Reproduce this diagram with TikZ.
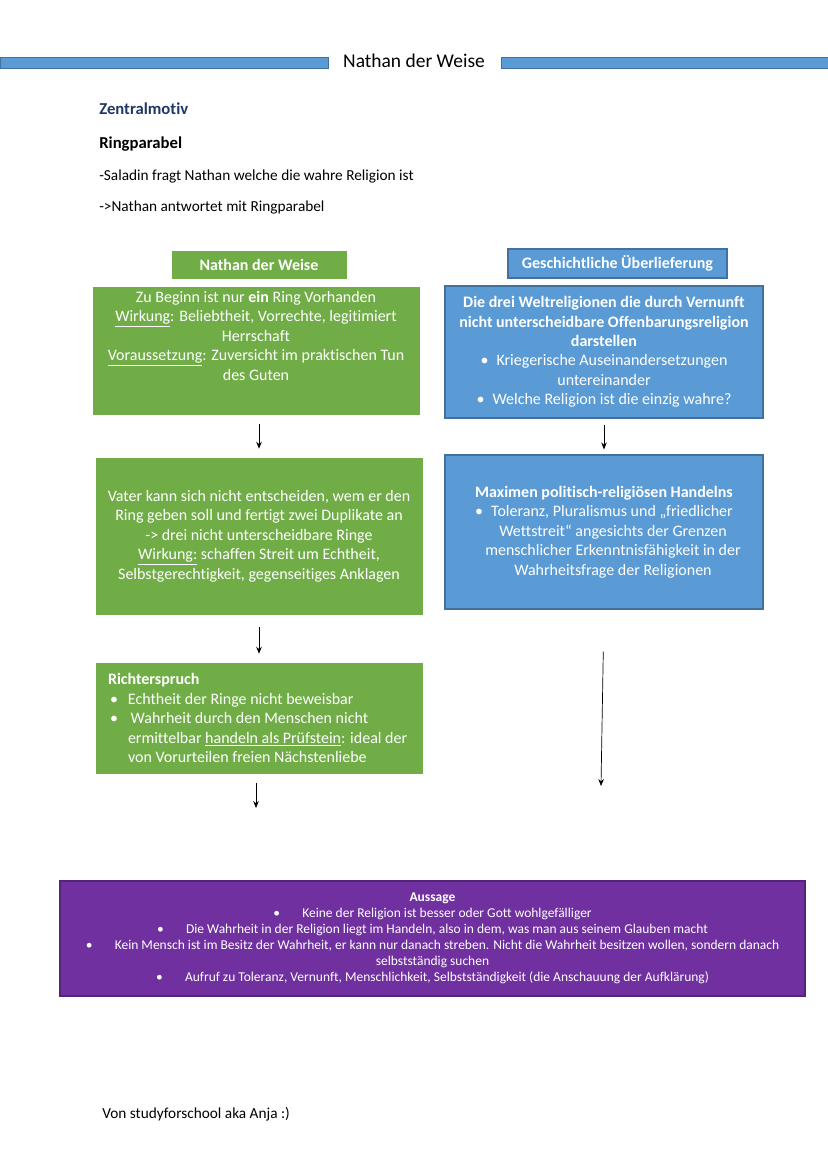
\documentclass[tikz,border=0pt]{standalone}
\usepackage{fontspec}
\setmainfont{Carlito}[Ligatures={TeX,NoCommon}]
\usetikzlibrary{arrows.meta, positioning}
\newlength\px
\setlength\px{0.71893pt}
\definecolor{boxgreen}{HTML}{70AD47}
\definecolor{boxblue}{HTML}{5B9BD5}
\definecolor{lineblue}{HTML}{41719C}
\definecolor{boxpurple}{HTML}{7030A0}
\definecolor{navy}{HTML}{1F3864}
\newcommand{\bul}[1]{\makebox[#1][l]{•}}
\tikzset{
    >={Stealth[length=5pt, width=4pt]}, % small filled arrow heads
    flow/.style={->, line width=0.5pt},
    boxfont/.style={font=\fontsize{11.5}{14}\selectfont},
    gbox/.style={fill=boxgreen, draw=boxgreen, text=white, inner sep=0pt, align=center, boxfont},
    bbox/.style={fill=boxblue, draw=lineblue, line width=0.8pt, text=white, inner sep=0pt, align=center, boxfont},
    pbox/.style={fill=boxpurple, draw=boxpurple!75!black, line width=0.8pt, text=white, inner sep=0pt, align=center, font=\fontsize{9.7}{11.5}\selectfont},
    plain/.style={anchor=west, inner sep=0pt, text height=1.5ex, text depth=0.3ex, font=\fontsize{11}{13}\selectfont},
    bar/.style={fill=boxblue, draw=lineblue, line width=0.4pt},
}
\begin{document}
\begin{tikzpicture}[x=0.71893pt, y=-0.71893pt]
    \useasboundingbox (0,0) rectangle (828,1171);

    % title line
    \node[inner sep=0pt, font=\fontsize{14}{16}\selectfont] (title) at (414,61) {Nathan der Weise};
    \path[bar] (0,57) rectangle (328,68);
    \path[bar] (501,57) rectangle (828,68);

    \node[plain, font=\fontsize{12}{14}\selectfont\bfseries, text=navy] (motiv) at (99,110.5) {Zentralmotiv};
    \node[plain, font=\fontsize{12}{14}\selectfont\bfseries] (parabel) at (99,144.5) {Ringparabel};
    \node[plain] (frage) at (99,177) {-Saladin fragt Nathan welche die wahre Religion ist};
    \node[plain] (antwort) at (99,208) {->Nathan antwortet mit Ringparabel};

    % column heads
    \node[gbox, font=\fontsize{11.5}{14}\selectfont\bfseries, minimum width=174\px, minimum height=27\px] (headL) at (259,264.5) {Nathan der Weise};
    \node[bbox, font=\fontsize{11.5}{14}\selectfont\bfseries, minimum width=219\px, minimum height=29\px] (headR) at (617.5,263.5) {Geschichtliche Überlieferung};

    % left column
    \node[gbox, minimum width=326\px, minimum height=127\px] (g1) at (256,350.5) {};
    \node[gbox, draw=none, fill=none] (g1txt) at (256,335.5) {Zu Beginn ist nur \textbf{ein} Ring Vorhanden\\
        \underline{Wirkung}: Beliebtheit, Vorrechte, legitimiert\\
        Herrschaft\\
        \underline{Voraussetzung}: Zuversicht im praktischen Tun\\
        des Guten};
    \node[gbox, minimum width=326\px, minimum height=156\px] (g2) at (259,536) {Vater kann sich nicht entscheiden, wem er den\\
        Ring geben soll und fertigt zwei Duplikate an\\
        -> drei nicht unterscheidbare Ringe\\
        \underline{Wirkung:} schaffen Streit um Echtheit,\\
        Selbstgerechtigkeit, gegenseitiges Anklagen};
    \node[gbox, align=flush left, text width=310\px, inner xsep=8\px, minimum height=110\px] (g3) at (259,718) {\hspace*{4\px}\textbf{Richterspruch}\\
        \hspace*{6\px}\bul{18\px}Echtheit der Ringe nicht beweisbar\\
        \hspace*{6\px}\bul{18\px}\,Wahrheit durch den Menschen nicht\\
        \hspace*{24\px}ermittelbar \underline{handeln als Prüfstein}: ideal der\\
        \hspace*{24\px}von Vorurteilen freien Nächstenliebe};

    % right column
    \node[bbox, minimum width=318\px, minimum height=132\px] (b1) at (604,352) {\textbf{Die drei Weltreligionen die durch Vernunft}\\
        \textbf{nicht unterscheidbare Offenbarungsreligion}\\
        \textbf{darstellen}\\
        \bul{16\px}Kriegerische Auseinandersetzungen\\
        untereinander\\
        \bul{16\px}Welche Religion ist die einzig wahre?};
    \node[bbox, minimum width=318\px, minimum height=154\px] (b2) at (604,532) {\textbf{Maximen politisch-religiösen Handelns}\\
        \bul{16\px}Toleranz, Pluralismus und „friedlicher\\
        \hspace*{18\px}Wettstreit“ angesichts der Grenzen\\
        \hspace*{18\px}menschlicher Erkenntnisfähigkeit in der\\
        \hspace*{18\px}Wahrheitsfrage der Religionen};

    % summary
    \node[pbox, minimum width=745\px, minimum height=115\px] (aussage) at (432.5,938.5) {\textbf{Aussage}\\
        \bul{29\px}Keine der Religion ist besser oder Gott wohlgefälliger\\
        \bul{29\px}Die Wahrheit in der Religion liegt im Handeln, also in dem, was man aus seinem Glauben macht\\
        \bul{29\px}Kein Mensch ist im Besitz der Wahrheit, er kann nur danach streben. Nicht die Wahrheit besitzen wollen, sondern danach\\
        selbstständig suchen\\
        \bul{29\px}Aufruf zu Toleranz, Vernunft, Menschlichkeit, Selbstständigkeit (die Anschauung der Aufklärung)};

    \node[plain] (autor) at (102,1114) {Von studyforschool aka Anja :)};

    % arrows
    \coordinate (endL) at (256,808);
    \coordinate (endR) at (601,786);
    \draw[flow, shorten <=10\px, shorten >=9\px] (g1.south -| g2.north) -- (g2.north);
    \draw[flow, shorten <=6\px, shorten >=5\px] (b1.south) -- (b2.north);
    \draw[flow, shorten <=13\px, shorten >=9\px] (g2.south) -- (g3.north);
    \draw[flow, shorten <=10\px] (g3.south -| endL) -- (endL);
    \draw[flow, shorten <=42\px] (b2.south) -- (endR);
\end{tikzpicture}
\end{document}
